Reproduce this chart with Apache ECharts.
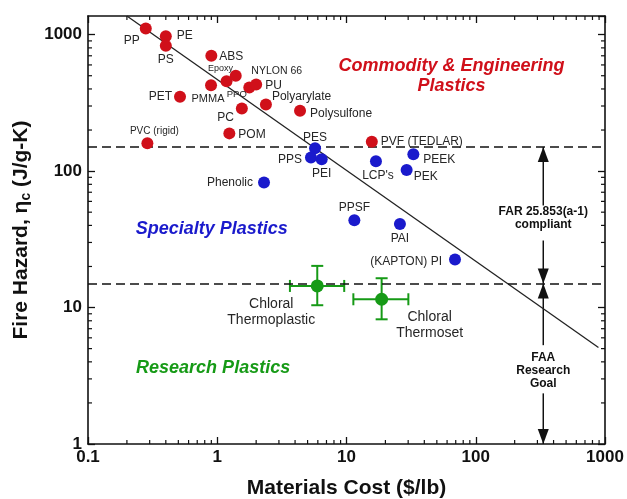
<!DOCTYPE html>
<html>
<head>
<meta charset="utf-8">
<script src="https://cdn.jsdelivr.net/npm/echarts@6/dist/echarts.min.js"></script>
<style>
  html, body { margin: 0; padding: 0; background: #fff; }
  #chart { width: 627px; height: 499px; }
</style>
</head>
<body>
<div id="chart"></div>
<script>
// commodity & engineering plastics (red)
var redNames = ['PP', 'PE', 'PS', 'ABS', 'Epoxy', 'PPO', 'PMMA', 'NYLON 66', 'PU', 'PET', 'PC', 'Polyarylate', 'Polysulfone', 'POM', 'PVC (rigid)', 'PVF (TEDLAR)'];
var redCost = [0.28, 0.40, 0.40, 0.90, 1.18, 1.39, 0.895, 1.77, 2.0, 0.515, 1.55, 2.38, 4.37, 1.24, 0.288, 15.7];
var redHazard = [1110, 975, 830, 700, 456, 499, 425, 410, 431, 350, 288, 308, 277, 189, 160, 164];

// specialty plastics (blue)
var blueNames = ['PES', 'PPS', 'PEI', "LCP's", 'PEEK', 'PEK', 'Phenolic', 'PPSF', 'PAI', '(KAPTON) PI'];
var blueCost = [5.71, 5.31, 6.43, 16.9, 32.9, 29.2, 2.30, 11.5, 25.9, 69.1];
var blueHazard = [147, 126, 122, 118, 133, 102, 82.6, 43.7, 40.9, 22.5];

// research plastics (green) with error bars
var greenNames = ['Chloral\nThermoplastic', 'Chloral\nThermoset'];
var greenCost = [5.94, 18.7];
var greenHazard = [14.4, 11.5];
var greenCostLow = [3.65, 11.3];
var greenCostHigh = [9.6, 30.1];
var greenHazardLow = [10.4, 8.2];
var greenHazardHigh = [20.2, 16.4];

// trend line end points and the two limits
var trendCost = [0.2, 890];
var trendHazard = [1370, 5.1];
var limitHazard = [150, 15];

var xTickLabels = ['0.1', '1', '10', '100', '1000'];
var yTickLabels = ['1', '10', '100', '1000'];

// arrows on the right side (x = cost), broken where the text sits
var arrowCost = 333;
var arrowFrom = [150, 31, 15, 2.35];
var arrowTo = [56, 15, 5.3, 1];
var arrowHeadFrom = [1, 0, 1, 0];
var arrowHeadTo = [0, 1, 0, 1];

// text notes, placed in data coords
var noteText = ['Commodity & Engineering\nPlastics', 'Specialty Plastics', 'Research Plastics', 'FAR 25.853(a-1)\ncompliant', 'FAA\nResearch\nGoal'];
var noteCost = [65, 0.906, 0.929, 333, 333];
var noteHazard = [496, 37.4, 3.59, 45, 3.43];

var RED = '#d0101a', BLUE = '#1a1acc', GREEN = '#169a16';
var FONT = '"Liberation Sans", Arial, Helvetica, sans-serif';

var noteStyle = [
  { color: RED, font: 'italic bold 18px ' + FONT, lh: 20 },
  { color: BLUE, font: 'italic bold 18px ' + FONT, lh: 20 },
  { color: GREEN, font: 'italic bold 18px ' + FONT, lh: 20 },
  { color: '#111', font: 'bold 12px ' + FONT, lh: 13 },
  { color: '#111', font: 'bold 12px ' + FONT, lh: 13 }
];

// [align, dx, dy, fontSize]
var labelPlace = {
  'PP': ['right', -6, 12, 12],
  'PE': ['left', 11, 0, 12],
  'PS': ['center', 0, 14, 12],
  'ABS': ['left', 8, 1, 12],
  'Epoxy': ['center', -6, -13, 9],
  'PPO': ['center', 1, 19, 9.5],
  'PMMA': ['center', -3, 14, 11],
  'NYLON 66': ['left', 2, -16, 10.5],
  'PU': ['left', 9, 1, 12],
  'PET': ['right', -8, 0, 12],
  'PC': ['right', -8, 9, 12],
  'Polyarylate': ['left', 6, -8, 12],
  'Polysulfone': ['left', 10, 3, 12],
  'POM': ['left', 9, 1, 12],
  'PVC (rigid)': ['center', 7, -12, 10],
  'PVF (TEDLAR)': ['left', 9, 0, 12],
  'PES': ['center', 0, -11, 12],
  'PPS': ['right', -9, 2, 12],
  'PEI': ['center', 0, 14, 12],
  "LCP's": ['center', 2, 14, 12],
  'PEEK': ['left', 10, 5, 12],
  'PEK': ['left', 7, 7, 12],
  'Phenolic': ['right', -11, 0, 12],
  'PPSF': ['center', 0, -12, 12],
  'PAI': ['center', 0, 15, 12],
  '(KAPTON) PI': ['right', -13, 2, 12],
  'Chloral\nThermoplastic': ['center', -46, 26, 14],
  'Chloral\nThermoset': ['center', 48, 26, 14]
};

function points(names, xs, ys) {
  return names.map(function (n, i) {
    var p = labelPlace[n];
    return {
      name: n,
      value: [xs[i], ys[i]],
      label: {
        show: true,
        formatter: '{b}',
        position: ['50%', '50%'],
        align: p[0],
        verticalAlign: 'middle',
        offset: [p[1], p[2]],
        fontSize: p[3],
        lineHeight: p[3] + 2,
        fontFamily: FONT,
        color: '#262626'
      }
    };
  });
}

// minor ticks for the log axes (2..9 in each decade)
var minorX = [], minorY = [];
[0.1, 1, 10, 100].forEach(function (d) {
  for (var k = 2; k <= 9; k++) minorX.push([d * k, 1]);
});
[1, 10, 100].forEach(function (d) {
  for (var k = 2; k <= 9; k++) minorY.push([0.1, d * k]);
});

function powLabel(list) {
  return function (v) {
    var l = Math.log10(v);
    var p = Math.round(l);
    if (Math.abs(l - p) > 1e-6) return '';
    var s = String(Math.pow(10, p));
    if (p < 0) s = (Math.pow(10, p)).toFixed(-p);
    return list.indexOf(s) >= 0 ? s : '';
  };
}

var axisCommon = {
  type: 'log',
  logBase: 10,
  axisLine: { lineStyle: { color: '#111', width: 1.6 } },
  axisTick: { inside: true, length: 7, lineStyle: { color: '#111', width: 1.3 } },
  splitLine: { show: false },
  minorTick: { show: false }
};

var chart = echarts.init(document.getElementById('chart'));

var option = {
  animation: false,
  backgroundColor: '#fff',
  grid: { left: 88, right: 22, top: 16, bottom: 55, outerBoundsMode: 'none' },
  xAxis: [
    Object.assign({}, axisCommon, {
      min: 0.1, max: 1000, position: 'bottom',
      name: 'Materials Cost ($/lb)',
      nameLocation: 'middle',
      nameGap: 34,
      nameTextStyle: { fontSize: 21, fontWeight: 'bold', color: '#111', fontFamily: FONT },
      axisLabel: { formatter: powLabel(xTickLabels), fontSize: 17, fontWeight: 'bold', color: '#111', fontFamily: FONT, margin: 5 }
    }),
    Object.assign({}, axisCommon, {
      min: 0.1, max: 1000, position: 'top',
      axisLabel: { show: false }
    })
  ],
  yAxis: [
    Object.assign({}, axisCommon, {
      min: 1, max: 1370, position: 'left',
      name: 'Fire Hazard, η{s|c} (J/g-K)',
      nameLocation: 'middle',
      nameGap: 55,
      nameRotate: 90,
      nameTextStyle: {
        fontSize: 21, fontWeight: 'bold', color: '#111', fontFamily: FONT,
        rich: { s: { fontSize: 14, fontWeight: 'bold', color: '#111', fontFamily: FONT, padding: [9, 0, 0, 0] } }
      },
      axisLabel: { formatter: powLabel(yTickLabels), fontSize: 17, fontWeight: 'bold', color: '#111', fontFamily: FONT, margin: 6, showMaxLabel: false }
    }),
    Object.assign({}, axisCommon, {
      min: 1, max: 1370, position: 'right',
      axisLabel: { show: false }
    })
  ],
  series: [
    {
      type: 'custom',
      coordinateSystem: 'cartesian2d',
      silent: true,
      data: minorX,
      renderItem: function (params, api) {
        var cs = params.coordSys;
        var x = api.coord([api.value(0), 1])[0];
        var st = { stroke: '#111', lineWidth: 1.2 };
        return { type: 'group', children: [
          { type: 'line', shape: { x1: x, y1: cs.y + cs.height, x2: x, y2: cs.y + cs.height - 4 }, style: st },
          { type: 'line', shape: { x1: x, y1: cs.y, x2: x, y2: cs.y + 4 }, style: st }
        ] };
      }
    },
    {
      type: 'custom',
      coordinateSystem: 'cartesian2d',
      silent: true,
      data: minorY,
      renderItem: function (params, api) {
        var cs = params.coordSys;
        var y = api.coord([1, api.value(1)])[1];
        var st = { stroke: '#111', lineWidth: 1.2 };
        return { type: 'group', children: [
          { type: 'line', shape: { x1: cs.x, y1: y, x2: cs.x + 4, y2: y }, style: st },
          { type: 'line', shape: { x1: cs.x + cs.width, y1: y, x2: cs.x + cs.width - 4, y2: y }, style: st }
        ] };
      }
    },
    {
      // trend line + limit lines
      type: 'line',
      data: trendCost.map(function (c, i) { return [c, trendHazard[i]]; }),
      showSymbol: false,
      silent: true,
      lineStyle: { color: '#222', width: 1.3 },
      markLine: {
        silent: true,
        symbol: 'none',
        label: { show: false },
        lineStyle: { color: '#111', width: 1.6, type: [9, 5] },
        data: limitHazard.map(function (v) { return { yAxis: v }; })
      },
      z: 2
    },
    {
      // arrows
      type: 'custom',
      coordinateSystem: 'cartesian2d',
      silent: true,
      data: arrowFrom.map(function (v, i) { return [arrowCost, v, arrowTo[i], arrowHeadFrom[i], arrowHeadTo[i]]; }),
      encode: { x: 0, y: [1, 2] },
      renderItem: function (params, api) {
        var a = api.coord([api.value(0), api.value(1)]);
        var b = api.coord([api.value(0), api.value(2)]);
        var kids = [{ type: 'line', shape: { x1: a[0], y1: a[1], x2: b[0], y2: b[1] }, style: { stroke: '#111', lineWidth: 1.5 } }];
        function head(p, dir) {
          kids.push({ type: 'polygon', shape: { points: [[p[0], p[1]], [p[0] - 5.5, p[1] - dir * 15], [p[0] + 5.5, p[1] - dir * 15]] }, style: { fill: '#111' } });
        }
        if (api.value(3)) head(a, a[1] < b[1] ? -1 : 1);
        if (api.value(4)) head(b, b[1] > a[1] ? 1 : -1);
        return { type: 'group', children: kids };
      }
    },
    {
      // error bars for the research plastics
      type: 'custom',
      coordinateSystem: 'cartesian2d',
      silent: true,
      data: greenCost.map(function (c, i) {
        return [c, greenHazard[i], greenCostLow[i], greenCostHigh[i], greenHazardLow[i], greenHazardHigh[i]];
      }),
      encode: { x: [0, 2, 3], y: [1, 4, 5] },
      renderItem: function (params, api) {
        var l = api.coord([api.value(2), api.value(1)]);
        var r = api.coord([api.value(3), api.value(1)]);
        var b = api.coord([api.value(0), api.value(4)]);
        var t = api.coord([api.value(0), api.value(5)]);
        var st = { stroke: GREEN, lineWidth: 2 };
        var cap = 6;
        return { type: 'group', children: [
          { type: 'line', shape: { x1: l[0], y1: l[1], x2: r[0], y2: r[1] }, style: st },
          { type: 'line', shape: { x1: l[0], y1: l[1] - cap, x2: l[0], y2: l[1] + cap }, style: st },
          { type: 'line', shape: { x1: r[0], y1: r[1] - cap, x2: r[0], y2: r[1] + cap }, style: st },
          { type: 'line', shape: { x1: t[0], y1: t[1], x2: b[0], y2: b[1] }, style: st },
          { type: 'line', shape: { x1: t[0] - cap, y1: t[1], x2: t[0] + cap, y2: t[1] }, style: st },
          { type: 'line', shape: { x1: b[0] - cap, y1: b[1], x2: b[0] + cap, y2: b[1] }, style: st }
        ] };
      },
      z: 3
    },
    {
      name: 'Commodity & Engineering',
      type: 'scatter',
      symbolSize: 12,
      itemStyle: { color: RED, opacity: 1 },
      data: points(redNames, redCost, redHazard),
      z: 5
    },
    {
      name: 'Specialty',
      type: 'scatter',
      symbolSize: 12,
      itemStyle: { color: BLUE, opacity: 1 },
      data: points(blueNames, blueCost, blueHazard),
      z: 5
    },
    {
      name: 'Research',
      type: 'scatter',
      symbolSize: 13,
      itemStyle: { color: GREEN, opacity: 1 },
      data: points(greenNames, greenCost, greenHazard),
      z: 5
    },
    {
      // text notes
      type: 'custom',
      coordinateSystem: 'cartesian2d',
      silent: true,
      data: noteText.map(function (t, i) { return [noteCost[i], noteHazard[i], i]; }),
      renderItem: function (params, api) {
        var p = api.coord([api.value(0), api.value(1)]);
        var s = noteStyle[api.value(2)];
        return {
          type: 'text',
          x: p[0], y: p[1],
          style: {
            text: noteText[api.value(2)],
            fill: s.color,
            font: s.font,
            lineHeight: s.lh,
            align: 'center',
            verticalAlign: 'middle'
          }
        };
      },
      z: 6
    }
  ]
};

chart.setOption(option);
</script>
</body>
</html>
